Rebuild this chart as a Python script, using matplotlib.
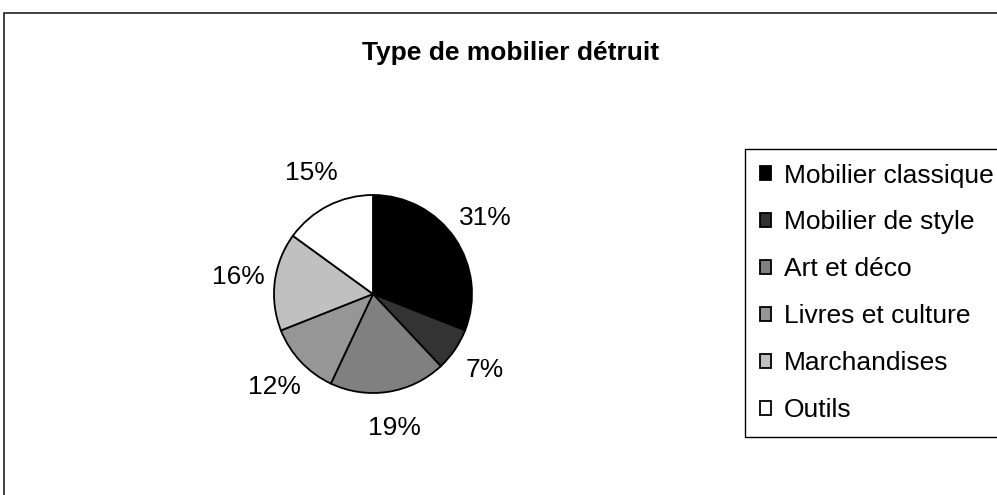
import matplotlib.pyplot as plt
from matplotlib.patches import Rectangle

categories = ['Mobilier classique', 'Mobilier de style', 'Art et déco',
              'Livres et culture', 'Marchandises', 'Outils']
shares = [31, 7, 19, 12, 16, 15]
colors = ['#000000', '#333333', '#808080', '#969696', '#c0c0c0', '#ffffff']

plt.rcParams['font.family'] = ['Liberation Sans', 'DejaVu Sans']

W, H = 997, 495
fig = plt.figure(figsize=(W / 100, H / 100), dpi=100)

# outer chart border (runs off the right and bottom edge)
fig.patches.append(Rectangle((4 / W, -0.1), 1.2, 1 - 13 / H + 0.1,
                             transform=fig.transFigure, fill=False,
                             edgecolor='#222222', linewidth=1.2))

fig.text(511 / W, 1 - 53 / H, 'Type de mobilier détruit', ha='center', va='center',
         fontsize=19, fontweight='bold')

# pie axes: centre (373, 294) px, radius 99 px
size = 300
cx, cy = 373, 294
ax = fig.add_axes([(cx - size / 2) / W, (H - cy - size / 2) / H, size / W, size / H])
r = 99 / (size / 2) * 1.5
wedges, texts, autotexts = ax.pie(shares, colors=colors, startangle=90, counterclock=False,
                                  radius=r, autopct='%1.0f%%', pctdistance=1.37,
                                  wedgeprops={'edgecolor': 'black', 'linewidth': 1.3},
                                  textprops={'fontsize': 19})
ax.set_xlim(-1.5, 1.5)
ax.set_ylim(-1.5, 1.5)
ax.set_aspect('equal')
ax.axis('off')

leg = fig.legend(wedges, categories, loc='upper left',
                 bbox_to_anchor=(745 / W, 1 - 149 / H), borderaxespad=0,
                 fontsize=19, frameon=True, fancybox=False, edgecolor='black',
                 framealpha=1, handlelength=0.42, handleheight=0.42,
                 handletextpad=0.5, labelspacing=0.87, borderpad=0.55)
leg.get_frame().set_linewidth(1.0)

fig.savefig('out.png', dpi=100)
